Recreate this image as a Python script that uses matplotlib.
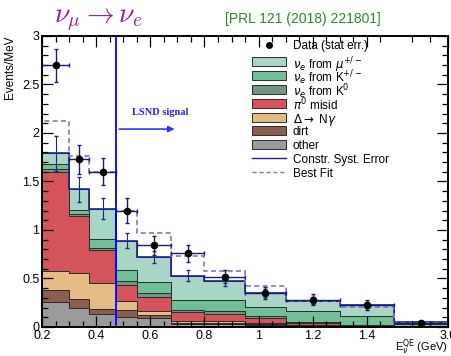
import numpy as np
import matplotlib
matplotlib.use('Agg')
import matplotlib.pyplot as plt
from matplotlib.patches import Rectangle
from matplotlib.lines import Line2D
from matplotlib.ticker import FixedLocator, MultipleLocator

# E_nu^QE bin edges (GeV)
edges = np.array([0.2, 0.3, 0.375, 0.475, 0.55, 0.675, 0.8, 0.95, 1.1, 1.3, 1.5, 3.0])

# background components (events/MeV), stacked bottom -> top
other = [0.26, 0.20, 0.13, 0.105, 0.09, 0.03, 0.03, 0.02, 0.01, 0.005, 0.003]
dirt = [0.12, 0.09, 0.06, 0.07, 0.03, 0.015, 0.015, 0.01, 0.005, 0.005, 0.002]
delta_ngamma = [0.20, 0.27, 0.26, 0.095, 0.045, 0.015, 0.015, 0.01, 0.005, 0.005, 0.002]
pi0_misid = [1.02, 0.58, 0.34, 0.16, 0.145, 0.09, 0.07, 0.05, 0.025, 0.005, 0.003]
nue_k0 = [0.03, 0.02, 0.02, 0.04, 0.04, 0.02, 0.03, 0.02, 0.01, 0.005, 0.005]
nue_kpm = [0.05, 0.05, 0.10, 0.12, 0.11, 0.11, 0.12, 0.10, 0.105, 0.085, 0.015]
nue_mu = [0.11, 0.21, 0.31, 0.30, 0.26, 0.25, 0.19, 0.14, 0.11, 0.115, 0.02]

syst_err = [0.18, 0.13, 0.11, 0.08, 0.06, 0.06, 0.05, 0.04, 0.035, 0.03, 0.01]
data = [2.70, 1.73, 1.60, 1.20, 0.84, 0.76, 0.52, 0.35, 0.28, 0.23, 0.045]
stat_err = [0.17, 0.15, 0.14, 0.13, 0.10, 0.085, 0.065, 0.06, 0.055, 0.05, 0.012]
best_fit = [2.12, 1.76, 1.60, 1.20, 0.97, 0.73, 0.58, 0.42, 0.27, 0.21, 0.045]

components = [
    (other, '#9a9a9a', 'other'),
    (dirt, '#8c5e4f', 'dirt'),
    (delta_ngamma, '#e4bd86', r'$\Delta\rightarrow$ N$\gamma$'),
    (pi0_misid, '#d5545b', r'$\pi^0$ misid'),
    (nue_k0, '#6f9780', r'$\nu_e$ from K$^0$'),
    (nue_kpm, '#70bf96', r'$\nu_e$ from K$^{+/-}$'),
    (nue_mu, '#a9d5c6', r'$\nu_e$ from $\mu^{+/-}$'),
]

xtick_vals = [0.2, 0.4, 0.6, 0.8, 1.0, 1.2, 1.4, 3.0]
xtick_labels = ['0.2', '0.4', '0.6', '0.8', '1', '1.2', '1.4', '3.0']
ytick_vals = [0, 0.5, 1, 1.5, 2, 2.5, 3]
ytick_labels = ['0', '0.5', '1', '1.5', '2', '2.5', '3']


# last bin (1.5-3 GeV) is squeezed on the axis
def fwd(x):
    x = np.asarray(x, dtype=float)
    return np.where(x <= 1.5, x, 1.5 + (x - 1.5) * 0.133)


def inv(u):
    u = np.asarray(u, dtype=float)
    return np.where(u <= 1.5, u, 1.5 + (u - 1.5) / 0.133)


plt.rcParams['font.family'] = ['Liberation Sans', 'DejaVu Sans']
plt.rcParams['mathtext.fontset'] = 'dejavusans'

fig = plt.figure(figsize=(4.52, 3.56), dpi=100)
ax = fig.add_axes([0.093, 0.0815, 0.898, 0.8175])
ax.set_xscale('function', functions=(fwd, inv))

centers = 0.5 * (edges[:-1] + edges[1:])
halfw = 0.5 * np.diff(edges)
edge_col = '#2b2b2b'

# stacked background
bottom = np.zeros(len(centers))
for vals, col, lab in components:
    top = bottom + np.array(vals)
    ax.stairs(top, edges, baseline=bottom, fill=True, facecolor=col,
              edgecolor=edge_col, linewidth=0.7)
    bottom = top
total = bottom

# constrained syst error
navy = '#1f1f8f'
ax.stairs(total, edges, color=navy, linewidth=1.2)
ax.errorbar(centers, total, yerr=syst_err, fmt='none', ecolor=navy,
            elinewidth=0.8, capsize=1.5)

# best fit
fit_col = '#7a7aae'
ax.stairs(best_fit, edges, color=fit_col, linestyle=(0, (3, 2)), linewidth=1.2)

# data
ax.errorbar(centers, data, xerr=halfw, yerr=stat_err, fmt='o', color='black',
            markersize=4.5, ecolor='#1a1a70', elinewidth=1.0, capsize=1.5)

# LSND signal region
ax.axvline(0.475, color='#0000ff', linewidth=1.3)
ax.annotate('', xy=(0.70, 2.04), xytext=(0.475, 2.04),
            arrowprops=dict(arrowstyle='-|>', color='#3333ff', lw=1.2,
                            mutation_scale=9))
ax.text(0.635, 2.21, 'LSND signal', color='#2020f0', fontsize=7.5,
        fontweight='bold', family='Liberation Serif', ha='center', va='center')

ax.set_xlim(0.2, 3.0)
ax.set_ylim(0, 3)
ax.xaxis.set_major_locator(FixedLocator(xtick_vals))
ax.set_xticklabels(xtick_labels)
ax.xaxis.set_minor_locator(FixedLocator(list(np.arange(0.25, 1.5, 0.05)) + [2.0, 2.5]))
ax.yaxis.set_major_locator(FixedLocator(ytick_vals))
ax.set_yticklabels(ytick_labels)
ax.yaxis.set_minor_locator(MultipleLocator(0.1))
ax.tick_params(which='both', direction='in', top=True, right=True, labelsize=9, width=0.9, pad=2)
ax.tick_params(which='major', length=8)
ax.tick_params(which='minor', length=4)
for sp in ax.spines.values():
    sp.set_linewidth(1.4)

ax.set_ylabel('Events/MeV', fontsize=8.5, loc='top', labelpad=4)
ax.set_xlabel(r'E$_\nu^{\rm QE}$ (GeV)', fontsize=8, loc='right', labelpad=-3)

# legend drawn row by row so the rows keep an even spacing
hx0, hx1, tx = 0.517, 0.601, 0.618
row_y = [0.970] + list(0.911 - 0.0474 * np.arange(9))
fs = 8.5
ax.plot([0.5 * (hx0 + hx1)], [row_y[0]], 'o', color='black', markersize=4,
        transform=ax.transAxes)
ax.text(tx, row_y[0], 'Data (stat err.)', fontsize=fs, va='center_baseline',
        transform=ax.transAxes)
for (vals, col, lab), yy in zip(components[::-1], row_y[1:8]):
    ax.add_patch(Rectangle((hx0, yy - 0.0155), hx1 - hx0, 0.031, facecolor=col,
                           edgecolor=edge_col, linewidth=0.7, transform=ax.transAxes))
    ax.text(tx, yy, lab, fontsize=fs, va='center_baseline', transform=ax.transAxes)
ax.add_line(Line2D([hx0, hx1], [row_y[8]] * 2, color=navy, linewidth=1.0,
                   transform=ax.transAxes))
ax.text(tx, row_y[8], 'Constr. Syst. Error', fontsize=fs, va='center_baseline',
        transform=ax.transAxes)
ax.add_line(Line2D([hx0, hx1], [row_y[9]] * 2, color=fit_col, linestyle=(0, (3, 2)),
                   linewidth=1.0, transform=ax.transAxes))
ax.text(tx, row_y[9], 'Best Fit', fontsize=fs, va='center_baseline',
        transform=ax.transAxes)

fig.text(0.12, 0.945, r'$\nu_\mu \rightarrow \nu_e$', color='#8b1f8b', fontsize=20,
         math_fontfamily='cm', va='center', ha='left')
fig.text(0.497, 0.948, '[PRL 121 (2018) 221801]', color='#2a852a', fontsize=10,
         va='center', ha='left')

fig.savefig('out.png', dpi=100)
